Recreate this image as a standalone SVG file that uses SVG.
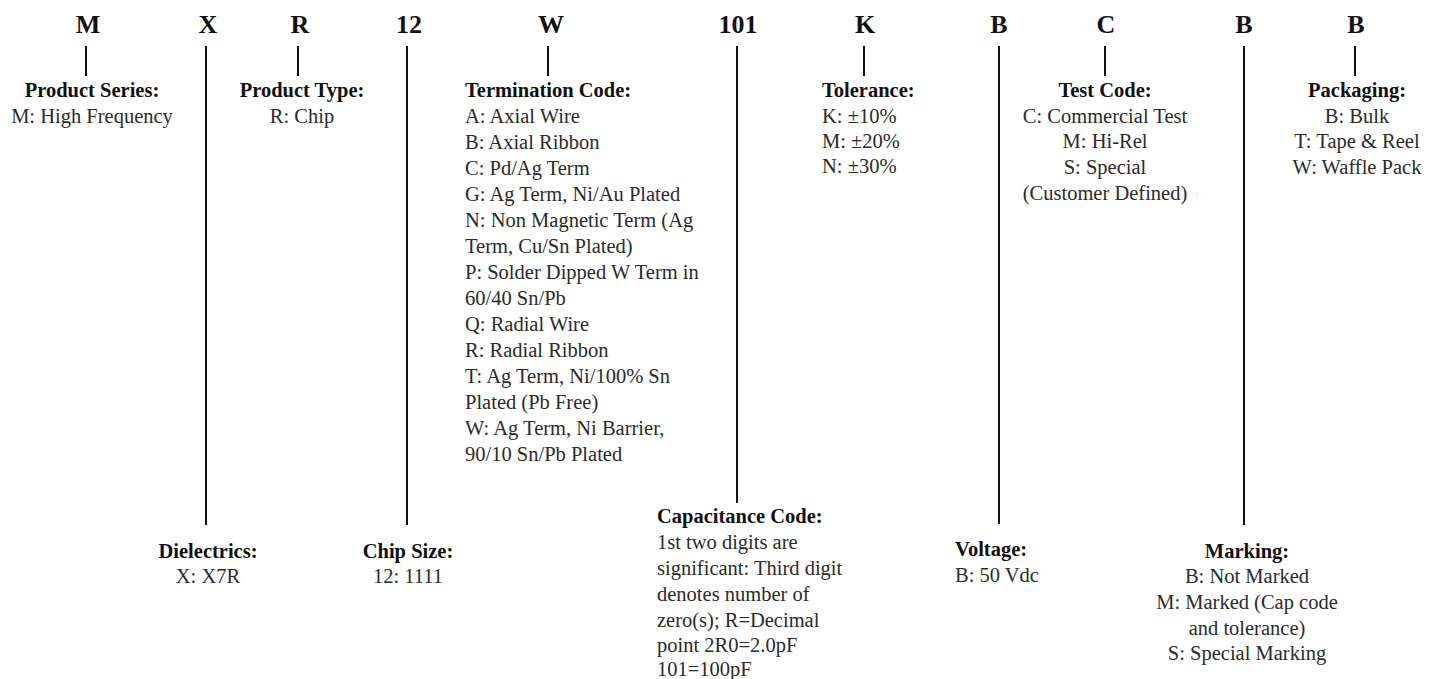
<svg xmlns="http://www.w3.org/2000/svg" width="1436" height="679" viewBox="0 0 1436 679">
<style>
.code{font-family:"Liberation Serif","Times New Roman",serif;font-weight:bold;font-size:26px;fill:#111;text-anchor:middle}
.t{font-family:"Liberation Serif","Times New Roman",serif;font-weight:bold;font-size:20.5px;fill:#111}
.b{font-family:"Liberation Serif","Times New Roman",serif;font-size:20.5px;fill:#2b2b2b}
.c{text-anchor:middle}
.conn line{stroke:#111;stroke-width:2}
</style>
<rect width="1436" height="679" fill="#fff"/>
<g id="codes">
<text class="code" x="88" y="33">M</text>
<text class="code" x="208" y="33">X</text>
<text class="code" x="300" y="33">R</text>
<text class="code" x="409" y="33">12</text>
<text class="code" x="551" y="33">W</text>
<text class="code" x="738" y="33">101</text>
<text class="code" x="865" y="33">K</text>
<text class="code" x="999" y="33">B</text>
<text class="code" x="1106" y="33">C</text>
<text class="code" x="1244" y="33">B</text>
<text class="code" x="1356" y="33">B</text>
</g>
<g class="conn" id="connectors">
<line x1="86" y1="46" x2="86" y2="76"/>
<line x1="206" y1="46" x2="206" y2="525"/>
<line x1="298" y1="46" x2="298" y2="76"/>
<line x1="407" y1="46" x2="407" y2="525"/>
<line x1="548" y1="46" x2="548" y2="76"/>
<line x1="737" y1="46" x2="737" y2="503"/>
<line x1="864" y1="46" x2="864" y2="76"/>
<line x1="999" y1="46" x2="999" y2="524"/>
<line x1="1105" y1="46" x2="1105" y2="76"/>
<line x1="1244" y1="46" x2="1244" y2="525"/>
<line x1="1355" y1="46" x2="1355" y2="76"/>
</g>
<g id="product-series">
<text class="t c" x="92" y="97">Product Series:</text>
<text class="b c" x="92" y="123">M: High Frequency</text>
</g>
<g id="product-type">
<text class="t c" x="302" y="97">Product Type:</text>
<text class="b c" x="302" y="123">R: Chip</text>
</g>
<g id="termination-code">
<text class="t" x="465" y="97">Termination Code:</text>
<text class="b" x="465" y="123">A: Axial Wire</text>
<text class="b" x="465" y="149">B: Axial Ribbon</text>
<text class="b" x="465" y="175">C: Pd/Ag Term</text>
<text class="b" x="465" y="201">G: Ag Term, Ni/Au Plated</text>
<text class="b" x="465" y="227">N: Non Magnetic Term (Ag</text>
<text class="b" x="465" y="253">Term, Cu/Sn Plated)</text>
<text class="b" x="465" y="279">P: Solder Dipped W Term in</text>
<text class="b" x="465" y="305">60/40 Sn/Pb</text>
<text class="b" x="465" y="331">Q: Radial Wire</text>
<text class="b" x="465" y="357">R: Radial Ribbon</text>
<text class="b" x="465" y="383">T: Ag Term, Ni/100% Sn</text>
<text class="b" x="465" y="409">Plated (Pb Free)</text>
<text class="b" x="465" y="435">W: Ag Term, Ni Barrier,</text>
<text class="b" x="465" y="461">90/10 Sn/Pb Plated</text>
</g>
<g id="tolerance">
<text class="t" x="822" y="97">Tolerance:</text>
<text class="b" x="822" y="123">K: ±10%</text>
<text class="b" x="822" y="148">M: ±20%</text>
<text class="b" x="822" y="173">N: ±30%</text>
</g>
<g id="test-code">
<text class="t c" x="1105" y="97">Test Code:</text>
<text class="b c" x="1105" y="123">C: Commercial Test</text>
<text class="b c" x="1105" y="148">M: Hi-Rel</text>
<text class="b c" x="1105" y="174">S: Special</text>
<text class="b c" x="1105" y="200">(Customer Defined)</text>
</g>
<g id="packaging">
<text class="t c" x="1357" y="97">Packaging:</text>
<text class="b c" x="1357" y="123">B: Bulk</text>
<text class="b c" x="1357" y="148">T: Tape &amp; Reel</text>
<text class="b c" x="1357" y="174">W: Waffle Pack</text>
</g>
<g id="dielectrics">
<text class="t c" x="208" y="558">Dielectrics:</text>
<text class="b c" x="208" y="583">X: X7R</text>
</g>
<g id="chip-size">
<text class="t c" x="408" y="558">Chip Size:</text>
<text class="b c" x="408" y="583">12: 1111</text>
</g>
<g id="capacitance-code">
<text class="t" x="657" y="523">Capacitance Code:</text>
<text class="b" x="657" y="549">1st two digits are</text>
<text class="b" x="657" y="575">significant: Third digit</text>
<text class="b" x="657" y="601">denotes number of</text>
<text class="b" x="657" y="627">zero(s); R=Decimal</text>
<text class="b" x="657" y="652">point 2R0=2.0pF</text>
<text class="b" x="657" y="676">101=100pF</text>
</g>
<g id="voltage">
<text class="t" x="955" y="556">Voltage:</text>
<text class="b" x="955" y="582">B: 50 Vdc</text>
</g>
<g id="marking">
<text class="t c" x="1247" y="558">Marking:</text>
<text class="b c" x="1247" y="583">B: Not Marked</text>
<text class="b c" x="1247" y="609">M: Marked (Cap code</text>
<text class="b c" x="1247" y="635">and tolerance)</text>
<text class="b c" x="1247" y="660">S: Special Marking</text>
</g>
</svg>
